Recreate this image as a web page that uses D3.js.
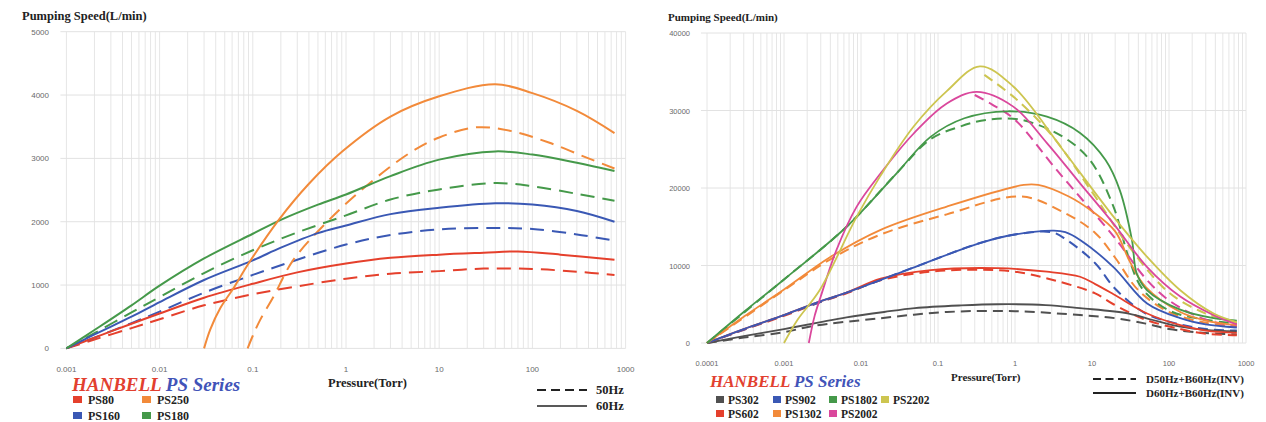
<!DOCTYPE html>
<html><head><meta charset="utf-8">
<script src="https://cdn.jsdelivr.net/npm/d3@7"></script>
<style>html,body{margin:0;padding:0;background:#fff;}svg{display:block;}</style>
</head><body>
<svg id="c" width="1266" height="422"></svg>
<script>
// ---------- LEFT CHART DATA ----------
const leftXTicks = [0.001, 0.01, 0.1, 1, 10, 100, 1000];
const leftXLabels = ["0.001", "0.01", "0.1", "1", "10", "100", "1000"];
const leftYTicks = [0, 1000, 2000, 3000, 4000, 5000];
const leftModels = ["PS80", "PS250", "PS160", "PS180"];

const PS80_60 = [[0.001,0],[0.002,170],[0.005,390],[0.01,550],[0.03,800],[0.1,1020],[0.3,1200],[1,1340],[3,1430],[10,1480],[30,1510],[70,1530],[200,1480],[760,1400]];
const PS80_50 = [[0.001,0],[0.002,140],[0.005,320],[0.01,460],[0.03,680],[0.1,855],[0.3,980],[1,1100],[3,1180],[10,1220],[30,1260],[100,1255],[300,1210],[760,1160]];
const PS160_60 = [[0.001,0],[0.002,220],[0.005,500],[0.01,730],[0.03,1080],[0.1,1390],[0.2,1590],[0.5,1820],[1,1940],[3,2120],[10,2220],[40,2290],[100,2270],[300,2170],[760,2000]];
const PS160_50 = [[0.001,0],[0.002,170],[0.005,400],[0.01,580],[0.03,880],[0.1,1160],[0.3,1400],[1,1640],[3,1790],[10,1880],[40,1900],[100,1885],[300,1800],[760,1700]];
const PS250_60 = [[0.03,0],[0.035,300],[0.045,640],[0.062,950],[0.09,1340],[0.19,2030],[0.4,2600],[0.93,3120],[3,3660],[10,3980],[40,4170],[100,4030],[300,3750],[760,3400]];
const PS250_50 = [[0.088,0],[0.1,200],[0.12,450],[0.166,810],[0.27,1390],[0.62,1990],[1.2,2390],[2.5,2780],[5,3100],[10,3330],[25,3490],[60,3430],[150,3250],[400,3000],[760,2840]];
const PS180_60 = [[0.001,0],[0.002,290],[0.005,680],[0.01,990],[0.03,1420],[0.1,1810],[0.2,2030],[0.5,2270],[1,2430],[3,2720],[10,2980],[40,3110],[100,3060],[300,2930],[760,2800]];
const PS180_50 = [[0.001,0],[0.002,240],[0.005,570],[0.01,810],[0.03,1190],[0.1,1550],[0.3,1830],[1,2100],[3,2350],[10,2510],[40,2610],[100,2560],[300,2440],[760,2330]];

// ---------- RIGHT CHART DATA ----------
const rightXTicks = [0.0001, 0.001, 0.01, 0.1, 1, 10, 100, 1000];
const rightXLabels = ["0.0001", "0.001", "0.01", "0.1", "1", "10", "100", "1000"];
const rightYTicks = [0, 10000, 20000, 30000, 40000];
const rightModels = ["PS302", "PS902", "PS1802", "PS2202", "PS602", "PS1302", "PS2002"];

const PS302_60 = [[0.0001,0],[0.0003,900],[0.001,1800],[0.003,2700],[0.0065,3300],[0.02,4000],[0.05,4500],[0.2,4850],[0.6,5000],[2.5,4900],[7,4500],[30,3800],[60,3000],[140,2100],[300,1700],[760,1500]];
const PS302_50 = [[0.0001,0],[0.0003,700],[0.001,1400],[0.0024,2200],[0.018,3200],[0.13,4000],[1,4100],[7,3600],[20,3200],[50,2500],[100,1800],[300,1300],[760,1100]];
const PS602_60 = [[0.0001,0],[0.0003,1800],[0.001,3600],[0.003,5400],[0.0065,6500],[0.018,8300],[0.08,9400],[0.6,9650],[2.6,9200],[7,8550],[11,7600],[19,6300],[52,3800],[140,2300],[300,1600],[760,1300]];
const PS602_50 = [[0.0001,0],[0.0003,1700],[0.001,3500],[0.003,5300],[0.0065,6400],[0.018,8100],[0.08,9200],[0.3,9450],[1,9200],[3.2,8100],[11,6400],[19,5000],[50,3000],[140,1800],[300,1200],[760,1000]];
const PS902_60 = [[0.0001,0],[0.0003,1800],[0.001,3600],[0.003,5400],[0.0065,6500],[0.05,9800],[0.35,12900],[1,14000],[3.2,14500],[4.5,14300],[7,13300],[19,9800],[52,5100],[140,3200],[300,2400],[760,2000]];
const PS902_50 = [[0.0001,0],[0.001,3600],[0.0065,6500],[0.05,9800],[0.35,12900],[1,14000],[3,14300],[4.7,13300],[11,10300],[20,7000],[50,3800],[140,2400],[300,1800],[760,1600]];
const PS1302_60 = [[0.0001,0],[0.0003,3400],[0.001,6900],[0.004,11100],[0.018,14600],[0.13,17600],[1.3,20400],[2,20400],[5,18900],[10,17000],[20,14400],[31,10500],[50,7200],[140,4000],[300,2900],[760,2300]];
const PS1302_50 = [[0.0001,0],[0.001,6800],[0.004,10800],[0.018,14000],[0.13,16600],[1.2,18900],[4.2,16900],[11,14200],[20,11000],[40,6800],[100,4000],[300,2600],[760,2100]];
const PS1802_60 = [[0.0001,0],[0.0003,4000],[0.001,8200],[0.0065,15000],[0.029,21900],[0.08,26600],[0.22,29000],[0.8,29900],[2.6,29200],[7,27100],[15,23600],[23,19700],[33,13300],[38,9000],[52,6800],[140,4300],[380,3200],[760,2900]];
const PS1802_50 = [[0.0001,0],[0.001,8200],[0.0065,15000],[0.029,21900],[0.08,26300],[0.19,27900],[0.43,28800],[1.2,28800],[4.2,26600],[9.4,23600],[19,17600],[30,11000],[45,7000],[100,4200],[300,3000],[760,2500]];
const PS2002_60 = [[0.0021,0],[0.0025,3500],[0.003,6000],[0.0048,12000],[0.0088,17600],[0.018,21900],[0.048,27000],[0.13,30900],[0.32,32400],[0.95,30500],[2.6,25800],[7,20600],[19,15400],[52,9800],[140,6000],[380,3600],[760,2400]];
const PS2002_50 = [[0.3,32000],[0.5,30800],[1,28800],[3.5,22300],[20,13500],[50,8300],[100,5500],[300,3000],[760,2200]];
const PS2202_60 = [[0.001,0],[0.0015,3000],[0.0029,6800],[0.0088,16300],[0.0177,21500],[0.048,27900],[0.13,32500],[0.35,35700],[0.95,33100],[4.2,24900],[19,16300],[52,11100],[140,6800],[380,3800],[760,2700]];
const PS2202_50 = [[0.4,34600],[1,31600],[3,26800],[10,19500],[30,12500],[100,6500],[300,3800],[760,2600]];

// ---------- DRAWING ----------
const svg = d3.select("#c");
const serif = "'Liberation Serif','Times New Roman',serif";
const sans = "'Liberation Sans',Arial,sans-serif";
const gridColor = "#e6e6e6";

function drawFrame(opt) {
  const g = svg.append("g");
  const x = d3.scaleLog().domain(opt.xDomain).range(opt.xRange);
  const y = d3.scaleLinear().domain(opt.yDomain).range(opt.yRange);
  const vTicks = [];
  for (let e = Math.log10(opt.xDomain[0]); e < Math.log10(opt.xDomain[1]) - 1e-9; e++) {
    for (let m = 1; m <= 9; m++) vTicks.push(m * Math.pow(10, e));
  }
  vTicks.push(opt.xDomain[1]);
  g.append("g").selectAll("line").data(vTicks).join("line")
    .attr("x1", d => x(d)).attr("x2", d => x(d))
    .attr("y1", y(opt.yDomain[0])).attr("y2", y(opt.yDomain[1]))
    .attr("stroke", gridColor).attr("stroke-width", 1);
  g.append("g").selectAll("line").data(opt.yTicks).join("line")
    .attr("x1", x(opt.xDomain[0]) - 6).attr("x2", x(opt.xDomain[1]))
    .attr("y1", d => y(d)).attr("y2", d => y(d))
    .attr("stroke", "#e2e2e2").attr("stroke-width", 1);
  g.append("g").selectAll("text").data(opt.yTicks).join("text")
    .attr("x", opt.yLabelX).attr("y", d => y(d) + 3)
    .attr("text-anchor", "end").attr("font-family", sans).attr("font-size", opt.tickSize)
    .attr("fill", "#6a6a6a").text(d => d);
  g.append("g").selectAll("text").data(opt.xTicks).join("text")
    .attr("x", d => x(d)).attr("y", opt.xLabelY)
    .attr("text-anchor", "middle").attr("font-family", sans).attr("font-size", opt.tickSize)
    .attr("fill", "#6a6a6a").text((d, i) => opt.xLabels[i]);
  g.append("text").attr("x", opt.titleX).attr("y", opt.titleY)
    .attr("font-family", serif).attr("font-weight", "bold").attr("font-size", opt.titleSize)
    .attr("fill", "#222").text("Pumping Speed(L/min)");
  g.append("text").attr("x", opt.xTitleX).attr("y", opt.xTitleY)
    .attr("font-family", serif).attr("font-weight", "bold").attr("font-size", opt.titleSize)
    .attr("fill", "#222").text("Pressure(Torr)");
  return { g, x, y };
}

function drawSeries(frame, data, color, dashed, width, dash) {
  const line = d3.line().x(d => frame.x(d[0])).y(d => frame.y(d[1])).curve(d3.curveCatmullRom.alpha(0.5));
  frame.g.append("path").datum(data).attr("d", line)
    .attr("fill", "none").attr("stroke", color).attr("stroke-width", width)
    .attr("stroke-dasharray", dashed ? dash : null)
    .attr("stroke-linecap", "butt").attr("stroke-linejoin", "round");
}

function brand(x, y, size) {
  const t = svg.append("text").attr("x", x).attr("y", y)
    .attr("font-family", serif).attr("font-weight", "bold").attr("font-style", "italic")
    .attr("font-size", size);
  t.append("tspan").attr("fill", "#e2402f").text("HANBELL ");
  t.append("tspan").attr("fill", "#4153b8").text("PS Series");
}

const COL = { red: "#e5402c", blue: "#3a58b4", orange: "#f28a3a", green: "#45994a",
  gray: "#505050", pink: "#da479c", olive: "#cdc550" };

// ----- Left -----
const L = drawFrame({
  xDomain: [0.001, 1000], xRange: [66.4, 625.6], yDomain: [0, 5000], yRange: [348.4, 31.7],
  xTicks: leftXTicks, xLabels: leftXLabels, yTicks: leftYTicks,
  yLabelX: 49, xLabelY: 372, tickSize: 8,
  titleX: 22, titleY: 20, titleSize: 12.5, xTitleX: 328, xTitleY: 387
});
const ldash = "14,8";
[[PS80_50, COL.red], [PS160_50, COL.blue], [PS180_50, COL.green], [PS250_50, COL.orange]]
  .forEach(([d, c]) => drawSeries(L, d, c, true, 2, ldash));
[[PS80_60, COL.red], [PS160_60, COL.blue], [PS180_60, COL.green], [PS250_60, COL.orange]]
  .forEach(([d, c]) => drawSeries(L, d, c, false, 2, ldash));

brand(72, 391, 19);
const leftLegColors = [COL.red, COL.orange, COL.blue, COL.green];
leftModels.forEach((m, i) => {
  const cx = i % 2 === 0 ? 73 : 142, cy = i < 2 ? 396 : 412;
  svg.append("rect").attr("x", cx).attr("y", cy).attr("width", 9).attr("height", 7).attr("fill", leftLegColors[i]);
  svg.append("text").attr("x", cx + 15).attr("y", cy + 7.5).attr("font-family", serif).attr("font-weight", "bold")
    .attr("font-size", 12).attr("fill", "#222").text(m);
});
svg.append("line").attr("x1", 537).attr("x2", 587).attr("y1", 390).attr("y2", 390)
  .attr("stroke", "#222").attr("stroke-width", 2).attr("stroke-dasharray", "9,5");
svg.append("line").attr("x1", 537).attr("x2", 587).attr("y1", 406).attr("y2", 406)
  .attr("stroke", "#222").attr("stroke-width", 1.6);
svg.append("text").attr("x", 596).attr("y", 394).attr("font-family", serif).attr("font-weight", "bold")
  .attr("font-size", 12.5).attr("fill", "#222").text("50Hz");
svg.append("text").attr("x", 596).attr("y", 410).attr("font-family", serif).attr("font-weight", "bold")
  .attr("font-size", 12.5).attr("fill", "#222").text("60Hz");

// ----- Right -----
const R = drawFrame({
  xDomain: [0.0001, 1000], xRange: [707, 1246], yDomain: [0, 40000], yRange: [343, 33],
  xTicks: rightXTicks, xLabels: rightXLabels, yTicks: rightYTicks,
  yLabelX: 690, xLabelY: 366, tickSize: 7.5,
  titleX: 668, titleY: 21, titleSize: 11, xTitleX: 951, xTitleY: 381
});
const rdash = "10,6";
[[PS302_50, COL.gray], [PS602_50, COL.red], [PS902_50, COL.blue], [PS1302_50, COL.orange],
 [PS1802_50, COL.green], [PS2002_50, COL.pink], [PS2202_50, COL.olive]]
  .forEach(([d, c]) => drawSeries(R, d, c, true, 2, rdash));
[[PS302_60, COL.gray], [PS602_60, COL.red], [PS902_60, COL.blue], [PS1302_60, COL.orange],
 [PS1802_60, COL.green], [PS2002_60, COL.pink], [PS2202_60, COL.olive]]
  .forEach(([d, c]) => drawSeries(R, d, c, false, 1.8, rdash));

brand(710, 387, 17);
const rightLegColors = [COL.gray, COL.blue, COL.green, COL.olive, COL.red, COL.orange, COL.pink];
const rightColX = [716, 773, 829, 881];
rightModels.forEach((m, i) => {
  const col = i < 4 ? i : i - 4, cy = i < 4 ? 396 : 410;
  const cx = rightColX[col];
  svg.append("rect").attr("x", cx).attr("y", cy).attr("width", 8).attr("height", 7).attr("fill", rightLegColors[i]);
  svg.append("text").attr("x", cx + 12).attr("y", cy + 8).attr("font-family", serif).attr("font-weight", "bold")
    .attr("font-size", 11.5).attr("fill", "#222").text(m);
});
svg.append("line").attr("x1", 1093).attr("x2", 1136).attr("y1", 379).attr("y2", 379)
  .attr("stroke", "#222").attr("stroke-width", 2).attr("stroke-dasharray", "8,4.5");
svg.append("line").attr("x1", 1093).attr("x2", 1136).attr("y1", 393).attr("y2", 393)
  .attr("stroke", "#222").attr("stroke-width", 2.2);
svg.append("text").attr("x", 1146).attr("y", 383).attr("font-family", serif).attr("font-weight", "bold")
  .attr("font-size", 11).attr("fill", "#222").text("D50Hz+B60Hz(INV)");
svg.append("text").attr("x", 1146).attr("y", 397).attr("font-family", serif).attr("font-weight", "bold")
  .attr("font-size", 11).attr("fill", "#222").text("D60Hz+B60Hz(INV)");
</script>
</body></html>
